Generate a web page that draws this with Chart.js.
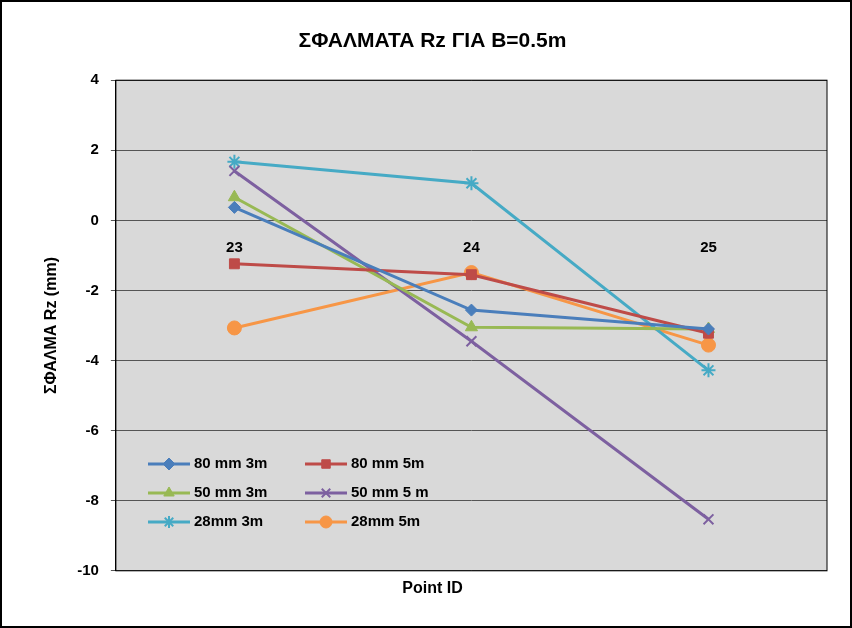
<!DOCTYPE html>
<html><head><meta charset="utf-8">
<script src="https://cdn.jsdelivr.net/npm/chart.js@4"></script>
<style>
body{margin:0;background:#fff}
#box{width:848px;height:624px;border:2px solid #000;position:relative}
</style></head>
<body><div id="box"><canvas id="c" width="848" height="624"></canvas></div>
<script>
const categories = ['23', '24', '25'];
const v80_3 = [0.37, -2.56, -3.1];
const v80_5 = [-1.24, -1.55, -3.22];
const v50_3 = [0.66, -3.05, -3.1];
const v50_5 = [1.41, -3.45, -8.53];
const v28_3 = [1.67, 1.06, -4.28];
const v28_5 = [-3.07, -1.49, -3.56];
const seriesNames = ['80 mm 3m', '80 mm 5m', '50 mm 3m', '50 mm 5 m', '28mm 3m', '28mm 5m'];
const colors = ['#4a7ebb', '#be4b48', '#98b954', '#7d60a0', '#46aac5', '#f79646'];
const styles = ['rectRot', 'rect', 'triangle', 'crossRot', 'star', 'circle'];
const sizes = [6, 7, 7, 7, 7, 7];
const allData = [v80_3, v80_5, v50_3, v50_5, v28_3, v28_5];

const fontB = 'bold 15px "Liberation Sans", Arial, sans-serif';

const datasets = allData.map((d, i) => ({
    label: seriesNames[i],
    data: d,
    borderColor: colors[i],
    backgroundColor: colors[i],
    borderWidth: 3,
    pointStyle: styles[i],
    pointRadius: sizes[i],
    pointBorderWidth: styles[i].startsWith('cross') || styles[i] === 'star' ? 2 : 1,
    tension: 0
}));

// fondo gris del área y leyenda dentro del gráfico
const plotExtras = {
    id: 'plotExtras',
    beforeDraw(chart) {
        const a = chart.chartArea, ctx = chart.ctx;
        ctx.save();
        ctx.fillStyle = '#d9d9d9';
        ctx.fillRect(a.left, a.top, a.right - a.left, a.bottom - a.top);
        ctx.restore();
    },
    afterDraw(chart) {
        const a = chart.chartArea, ctx = chart.ctx;
        ctx.save();
        ctx.strokeStyle = '#000';
        ctx.lineWidth = 1;
        ctx.strokeRect(a.left, a.top, a.right - a.left, a.bottom - a.top);
        ctx.font = fontB;
        ctx.textBaseline = 'middle';
        chart.data.datasets.forEach((ds, i) => {
            const col = i % 2, row = Math.floor(i / 2);
            const x = 146 + col * 157, y = 462 + row * 29;
            ctx.strokeStyle = ds.borderColor;
            ctx.lineWidth = 3;
            ctx.beginPath(); ctx.moveTo(x, y); ctx.lineTo(x + 42, y); ctx.stroke();
            ctx.fillStyle = ds.borderColor; ctx.lineWidth = ds.pointBorderWidth;
            Chart.helpers.drawPoint(ctx, {pointStyle: ds.pointStyle, radius: Math.min(ds.pointRadius, 6), borderWidth: ds.pointBorderWidth}, x + 21, y);
            ctx.fillStyle = '#000';
            ctx.fillText(ds.label, x + 46, y);
        });
        ctx.restore();
    }
};

new Chart(document.getElementById('c'), {
    type: 'line',
    data: { labels: categories, datasets: datasets },
    options: {
        responsive: false,
        animation: false,
        layout: { padding: { left: 36, right: 23, top: 3, bottom: 24 } },
        plugins: {
            legend: { display: false },
            title: { display: true, text: 'ΣΦΑΛΜΑΤΑ Rz ΓΙΑ B=0.5m', color: '#000',
                font: { size: 21, weight: 'bold', family: '"Liberation Sans", Arial' }, padding: { top: 24, bottom: 26 } },
            subtitle: { display: true, position: 'bottom', text: 'Point ID', color: '#000',
                font: { size: 16, weight: 'bold', family: '"Liberation Sans", Arial' }, padding: { top: 8, bottom: 4 } },
            tooltip: { enabled: false }
        },
        scales: {
            x: {
                offset: true,
                position: { y: 0 },
                grid: { display: false, drawTicks: false },
                border: { display: false },
                ticks: { color: '#000', font: { size: 15, weight: 'bold' }, padding: 18 }
            },
            y: {
                min: -10, max: 4,
                ticks: { stepSize: 2, color: '#000', font: { size: 15, weight: 'bold' }, padding: 12 },
                grid: { color: '#555', drawTicks: true, tickLength: 5 },
                border: { color: '#000' },
                title: { display: true, text: 'ΣΦΑΛΜΑ Rz (mm)', color: '#000',
                    font: { size: 16, weight: 'bold', family: '"Liberation Sans", Arial' } }
            }
        }
    },
    plugins: [plotExtras]
});
</script></body></html>
